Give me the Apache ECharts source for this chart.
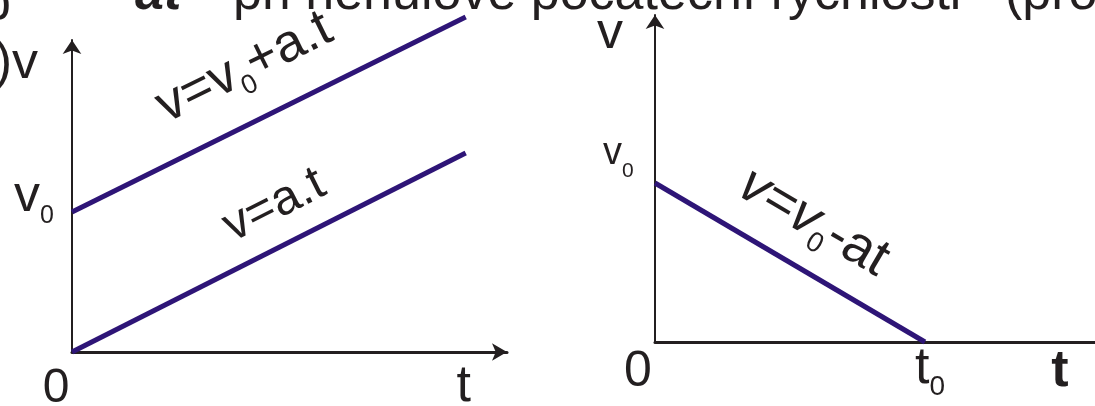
<!DOCTYPE html>
<html><head><meta charset="utf-8">
<script src="https://cdn.jsdelivr.net/npm/echarts@6/dist/echarts.min.js"></script>
<style>html,body{margin:0;padding:0;background:#fff;overflow:hidden}#c{width:1095px;height:406px}</style>
</head><body><div id="c"></div>
<script>
// ---- data ----
const timeA = [0, 9.05];            // left diagram, time
const velAt = [0, 9.95];            // v = a.t
const velV0At = [7.0, 16.75];       // v = v0 + a.t
const timeB = [0, 10];              // right diagram, time (t0 = 10)
const velV0MinusAt = [7.95, 0];     // v = v0 - at
const tMarkRight = 15;              // position of the "t" label on the right axis
const titleParts = ['at"', 'při nenulové počáteční rychlosti"', '(pro'];

const FAM = "'Liberation Sans', Arial, sans-serif";
const INK = '#231f20';
const LINE = '#2e1577';

const chart = echarts.init(document.getElementById('c'), null, {renderer: 'canvas'});

function xAx(grid, max, arrow) {
  return {gridIndex: grid, type: 'value', min: 0, max: max,
    axisLine: {show: true, onZero: false, symbol: arrow ? ['none', 'arrow'] : ['none', 'none'], symbolSize: [13, 15],
      lineStyle: {color: INK, width: 3}},
    axisTick: {show: false}, axisLabel: {show: false}, splitLine: {show: false}};
}
function yAx(grid, max) {
  return {gridIndex: grid, type: 'value', min: 0, max: max,
    axisLine: {show: true, onZero: false, symbol: ['none', 'arrow'], symbolSize: [14, 14],
      lineStyle: {color: INK, width: 2}},
    axisTick: {show: false}, axisLabel: {show: false}, splitLine: {show: false}};
}
function lineSeries(xi, ts, vs) {
  return {type: 'line', xAxisIndex: xi, yAxisIndex: xi, data: ts.map((t, i) => [t, vs[i]]),
    symbol: 'none', showSymbol: false, clip: false, silent: true, z: 3,
    lineStyle: {color: LINE, width: 5, cap: 'butt'}};
}

chart.setOption({
  animation: false,
  backgroundColor: '#fff',
  grid: [
    {left: 72, top: 40, width: 435, height: 312},
    {left: 655, top: 15, width: 440, height: 327}
  ],
  xAxis: [xAx(0, 10, true), xAx(1, 16.3, false)],
  yAxis: [yAx(0, 15.6), yAx(1, 16.35)],
  series: [
    lineSeries(0, timeA, velV0At),
    lineSeries(0, timeA, velAt),
    lineSeries(1, timeB, velV0MinusAt)
  ]
});

// ---- text labels, anchored on the chart's own scales ----
const mctx = document.createElement('canvas').getContext('2d');
function font(size, o) { o = o || {}; return (o.italic ? 'italic ' : '') + (o.bold ? 'bold ' : '') + size + 'px ' + FAM; }
function tw(t, f) { mctx.font = f; return mctx.measureText(t).width; }

// parts: [{t, s, dx, dy, italic, bold}] ; local baseline at y = base
function label(parts, x, y, align, rotation, base) {
  const fonts = parts.map(p => font(p.s, p));
  const widths = parts.map((p, i) => tw(p.t, fonts[i]) + (p.dx || 0));
  const W = widths.reduce((a, b) => a + b, 0);
  let cur = align === 'center' ? -W / 2 : align === 'right' ? -W : 0;
  const children = parts.map((p, i) => {
    const el = {type: 'text', x: cur + (p.dx || 0), y: (base || 0) + (p.dy || 0) - 0.3465 * p.s,
      style: {text: p.t, font: fonts[i], fill: INK, textAlign: 'left', textVerticalAlign: 'middle',
        align: 'left', verticalAlign: 'middle'}};
    cur += widths[i];
    return el;
  });
  return {type: 'group', x: x, y: y, rotation: rotation || 0, children: children, silent: true};
}
const P = (g, t, v) => chart.convertToPixel({gridIndex: g}, [t, v]);

// text centred at distance `dist` from a line, on its upper side, rotated with it
function onLine(g, ts, vs, tAt, dist, parts) {
  const a = P(g, ts[0], vs[0]), b = P(g, ts[1], vs[1]);
  const ang = Math.atan2(-(b[1] - a[1]), b[0] - a[0]);
  const f = (tAt - ts[0]) / (ts[1] - ts[0]);
  const px = a[0] + (b[0] - a[0]) * f, py = a[1] + (b[1] - a[1]) * f;
  const nx = -Math.sin(ang), ny = -Math.cos(ang);
  return label(parts, px + nx * dist, py + ny * dist, 'center', ang, 0.3 * parts[0].s);
}

const O1 = P(0, 0, 0), Top1 = P(0, 0, 15.6), V01 = P(0, 0, velV0At[0]), T1 = P(0, timeA[1], 0);
const O2 = P(1, 0, 0), Top2 = P(1, 0, 16.35), V02 = P(1, 0, velV0MinusAt[0]), T02 = P(1, timeB[1], 0), TR = P(1, tMarkRight, 0);

const g = [];
// title remnants at the top
g.push(label([{t: titleParts[0], s: 52, italic: true, bold: true}], 135, 13, 'left', 0, 0));
g.push(label([{t: titleParts[1], s: 52}], 233, 13, 'left', 0, 0));
g.push(label([{t: titleParts[2], s: 52}], 1005, 13, 'left', 0, 0));
g.push(label([{t: 'b', s: 52}], 11, 23, 'right', 0, 0));

// left diagram
g.push(label([{t: ')v', s: 52}], Top1[0] - 34, Top1[1] + 42, 'right', 0, 0));
g.push(label([{t: 'v', s: 52}, {t: '0', s: 25, dy: 10}], V01[0] - 58, V01[1] + 3, 'left', 0, 0));
g.push(label([{t: '0', s: 48}], O1[0] - 16, O1[1] + 53, 'center', 0, 0));
g.push(label([{t: 't', s: 52}], T1[0] - 2, T1[1] + 53, 'center', 0, 0));
g.push(onLine(0, timeA, velV0At, 4.5, 50,
  [{t: 'v=v', s: 53}, {t: '0', s: 27, dy: 9}, {t: '+a.t', s: 53}]));
g.push(onLine(0, timeA, velAt, 5.06, 37, [{t: 'v=a.t', s: 49}]));

// right diagram
g.push(label([{t: 'v', s: 52}], Top2[0] - 45, Top2[1] + 37, 'center', 0, 0));
g.push(label([{t: 'v', s: 38}, {t: '0', s: 21, dy: 11}], V02[0] - 52, V02[1] - 16, 'left', 0, 0));
g.push(label([{t: '0', s: 50}], O2[0] - 17, O2[1] + 48, 'center', 0, 0));
g.push(label([{t: 't', s: 52}, {t: '0', s: 28, dy: 10}], T02[0] - 10, T02[1] + 45, 'left', 0, 0));
g.push(label([{t: 't', s: 52, bold: true}], TR[0], TR[1] + 48, 'center', 0, 0));
(function () {
  const a = P(1, timeB[0], velV0MinusAt[0]), b = P(1, timeB[1], velV0MinusAt[1]);
  const ang = Math.atan2(-(b[1] - a[1]), b[0] - a[0]);   // negative: line goes down
  const tAt = 5.0, dist = 44;
  const f = tAt / timeB[1];
  const px = a[0] + (b[0] - a[0]) * f, py = a[1] + (b[1] - a[1]) * f;
  g.push(label([{t: 'v=v', s: 54, italic: true}, {t: '0', s: 28, dy: 9}, {t: '-at', s: 54}],
    px - Math.sin(ang) * dist, py - Math.cos(ang) * dist, 'center', ang, 0.3 * 54));
})();

chart.setOption({graphic: {elements: g}});
</script></body></html>
